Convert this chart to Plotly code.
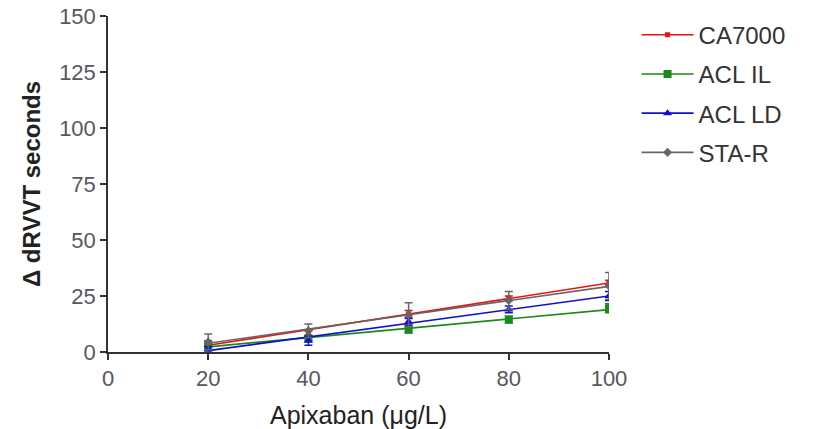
import numpy as np
import plotly.graph_objects as go

# Data
apixaban = [20, 40, 60, 80, 100]
series_names = ["CA7000", "ACL IL", "ACL LD", "STA-R"]
ca7000 = [4.0, 8.5, 17.0, 24.0, 31.0]
acl_il = [3.0, 6.0, 10.0, 14.5, 19.5]
acl_ld = [1.5, 5.0, 13.5, 19.0, 25.0]
sta_r = [4.5, 9.5, 16.5, 23.0, 29.5]
ca7000_err = [1.0, 1.0, 1.5, 1.0, 1.0]
acl_il_err = [1.0, 1.0, 1.5, 1.5, 2.0]
acl_ld_err = [1.0, 2.0, 1.5, 1.5, 2.0]
sta_r_err = [3.5, 3.0, 5.5, 4.0, 6.0]
x_ticks = [0, 20, 40, 60, 80, 100]
y_ticks = [0, 25, 50, 75, 100, 125, 150]

values = [ca7000, acl_il, acl_ld, sta_r]
errors = [ca7000_err, acl_il_err, acl_ld_err, sta_r_err]
colors = ["#ee1111", "#1a8a1a", "#1010cc", "#666666"]
symbols = ["square", "square", "triangle-up", "diamond"]
sizes = [5, 8, 8, 7]

fig = go.Figure()
xa = np.array(apixaban, dtype=float)
for name, vals, err, c, sym, sz in zip(series_names, values, errors, colors, symbols, sizes):
    slope, inter = np.polyfit(xa, np.array(vals), 1)
    fit = slope * xa + inter
    fig.add_trace(go.Scatter(x=apixaban, y=fit, mode="lines",
                             line=dict(color=c, width=1.6), showlegend=False,
                             hoverinfo="skip"))
    fig.add_trace(go.Scatter(x=apixaban, y=vals, mode="markers",
                             marker=dict(color=c, symbol=sym, size=sz),
                             error_y=dict(type="data", array=err, color=c,
                                          thickness=1.5, width=4),
                             showlegend=False))
    fig.add_trace(go.Scatter(x=[None], y=[None], mode="lines+markers", name=name,
                             line=dict(color=c, width=1.6),
                             marker=dict(color=c, symbol=sym, size=sz),
                             legendgroup=name))

axis_common = dict(showgrid=False, zeroline=False, showline=True, linecolor="#333333",
                   linewidth=1.5, ticks="outside", ticklen=6, tickwidth=1.5,
                   tickcolor="#333333", automargin=False,
                   tickfont=dict(family="Liberation Sans, Arial", size=22, color="#5a5560"))

fig.update_layout(
    width=815, height=429,
    margin=dict(l=108, r=206, t=16, b=77),
    paper_bgcolor="white", plot_bgcolor="white",
    xaxis=dict(range=[0, 100], tickvals=x_ticks, **axis_common,
               title=dict(text="Apixaban (μg/L)", standoff=17,
                          font=dict(family="Liberation Sans, Arial", size=25, color="#222222"))),
    yaxis=dict(range=[0, 150], tickvals=y_ticks, **axis_common,
               title=dict(text="<b>Δ dRVVT seconds</b>", standoff=12,
                          font=dict(family="Liberation Sans, Arial", size=24, color="#222222"))),
    legend=dict(x=1.055, y=1.01, xanchor="left", yanchor="top",
                font=dict(family="Liberation Sans, Arial", size=24, color="#333333"),
                itemwidth=52, tracegroupgap=5, bgcolor="rgba(0,0,0,0)"),
    showlegend=True,
)

fig.write_html("out.html")
